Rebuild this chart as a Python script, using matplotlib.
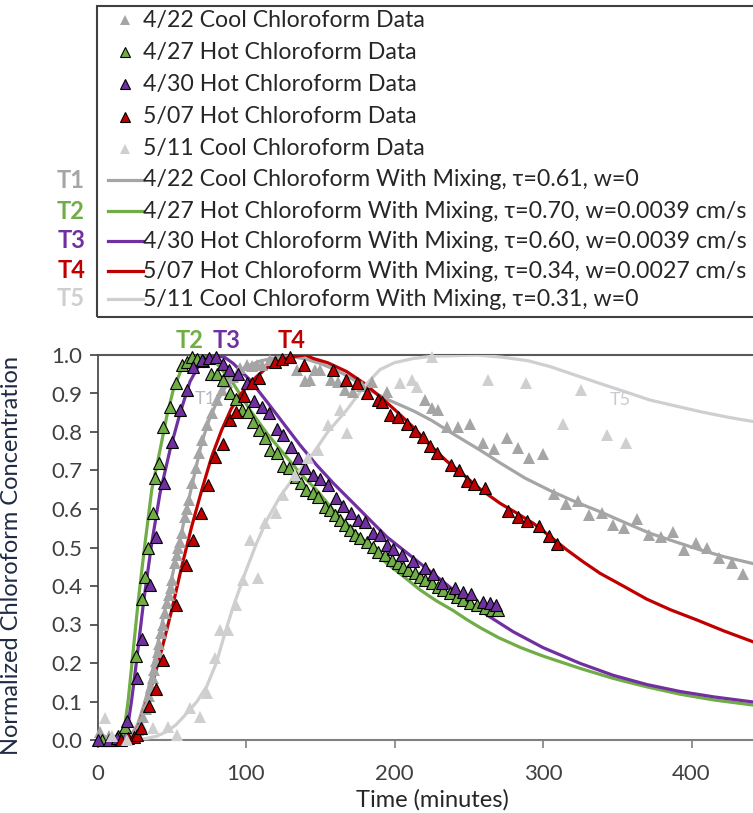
import numpy as np
import matplotlib.pyplot as plt
from matplotlib.lines import Line2D
from matplotlib.patches import Rectangle

plt.rcParams['font.family'] = ['Lato', 'DejaVu Sans']

# measured breakthrough data: (time [min], normalized chloroform concentration)
data_0422 = [(2, 0.02), (5, 0.0), (8, 0.01), (12, 0.0), (16, 0.0), (20, 0.005), (24, 0.01),
             (27.5, 0.026), (29, 0.04), (30.9, 0.061), (32.5, 0.08), (33.8, 0.095), (35, 0.115),
             (36, 0.138), (37.2, 0.16), (38.3, 0.182), (39.4, 0.205), (40.5, 0.229), (41.7, 0.25),
             (42.8, 0.277), (44.2, 0.30), (45.5, 0.329), (46.8, 0.355), (48.1, 0.377), (49.3, 0.395),
             (50.4, 0.416), (52.2, 0.459), (53.3, 0.48), (54.4, 0.498), (55.5, 0.515), (56.7, 0.537),
             (58.9, 0.58), (60.2, 0.60), (61.6, 0.623), (63.8, 0.667), (66.1, 0.706), (68.4, 0.745),
             (70.6, 0.779), (73.5, 0.818), (76.9, 0.849), (80.3, 0.883), (83.6, 0.909), (87.5, 0.93),
             (91.4, 0.944), (96, 0.965), (100.5, 0.974), (103.8, 0.971), (107.2, 0.974), (110.6, 0.974),
             (116.2, 0.987), (134.1, 0.961), (139.7, 0.933), (143.1, 0.935), (146.5, 0.961),
             (149.8, 0.961), (157, 0.935), (162, 0.93), (167, 0.91), (172.3, 0.905), (178, 0.92),
             (184.6, 0.931), (194.7, 0.905), (220.5, 0.883), (225, 0.862), (229.5, 0.857),
             (235.1, 0.814), (243, 0.814), (250.8, 0.821), (259.4, 0.772), (267, 0.755), (276, 0.784),
             (283.4, 0.758), (290.8, 0.733), (299.8, 0.742), (307.4, 0.639), (315.5, 0.613),
             (323.4, 0.622), (331.2, 0.584), (339.5, 0.589), (347.3, 0.558), (354.5, 0.55),
             (363.5, 0.573), (371.3, 0.532), (379.2, 0.528), (387.3, 0.541), (395.2, 0.494),
             (403, 0.511), (410.2, 0.498), (418.7, 0.472), (427.1, 0.459), (434.9, 0.431)]

data_0427 = [(3, 0.0), (9, 0.0), (14, 0.01), (18.5, 0.035), (25.7, 0.218), (29.8, 0.365), (32, 0.424),
             (33.8, 0.50), (37.2, 0.589), (38.7, 0.68), (41.6, 0.719), (44.3, 0.812), (48.8, 0.866),
             (52.9, 0.926), (57.1, 0.974), (60, 0.983), (63.4, 0.996), (67, 0.99), (71, 0.985),
             (76.2, 0.951), (80.7, 0.951), (84.7, 0.935), (89.2, 0.90), (93.3, 0.885), (97.1, 0.857),
             (101.6, 0.853), (104.9, 0.827), (109, 0.805), (112.8, 0.784), (116.2, 0.753),
             (121.1, 0.745), (125.1, 0.712), (129.2, 0.706), (133.5, 0.684), (137, 0.667),
             (140.4, 0.649), (144.9, 0.641), (148.7, 0.632), (153.2, 0.606), (156.6, 0.597),
             (159.9, 0.584), (163.3, 0.571), (166.7, 0.558), (170, 0.545), (173.4, 0.532),
             (176.8, 0.524), (181.3, 0.515), (185.7, 0.502), (189.1, 0.489), (193.6, 0.48),
             (198.1, 0.468), (202.6, 0.459), (205.9, 0.45), (209.3, 0.442), (213.8, 0.433),
             (217.2, 0.424), (220.5, 0.416), (225, 0.407), (229.5, 0.398), (232.9, 0.39),
             (237.4, 0.381), (241.9, 0.372), (246.3, 0.364), (250.8, 0.355), (255.3, 0.351),
             (260.9, 0.342), (265.5, 0.338), (269.9, 0.338)]

data_0430 = [(0, 0.0), (8, 0.0), (13, 0.004), (19.7, 0.05), (26.4, 0.16), (29.7, 0.263), (35.4, 0.403),
             (39.4, 0.526), (45, 0.667), (50.4, 0.775), (55.6, 0.857), (60.1, 0.909), (64.5, 0.968),
             (70.5, 0.988), (75.3, 0.991), (79.8, 0.994), (84.3, 0.977), (88.8, 0.961), (94.8, 0.951),
             (100.9, 0.928), (105.4, 0.881), (110.6, 0.866), (115.5, 0.849), (120.7, 0.807),
             (125.1, 0.792), (130.1, 0.762), (135.2, 0.732), (139.7, 0.706), (144.9, 0.688),
             (150, 0.677), (155.4, 0.662), (160.3, 0.628), (165.5, 0.609), (170.5, 0.589),
             (175.6, 0.571), (180.1, 0.567), (185.3, 0.537), (190.2, 0.532), (194.7, 0.506),
             (199.2, 0.497), (205, 0.48), (212.7, 0.466), (220.5, 0.448), (226, 0.43), (231.8, 0.407),
             (240.7, 0.396), (246, 0.385), (251.3, 0.378), (259.4, 0.359), (264, 0.355), (268.6, 0.35)]

data_0507 = [(16, 0.0), (20.8, 0.004), (24.8, 0.007), (26.4, 0.013), (29.3, 0.032), (34.5, 0.088),
             (39.3, 0.132), (44.3, 0.208), (53, 0.35), (59.6, 0.455), (64.5, 0.52), (69.7, 0.589),
             (74.6, 0.662), (79.3, 0.735), (84.3, 0.768), (89, 0.832), (93.5, 0.853), (98.7, 0.893),
             (103.8, 0.926), (109, 0.939), (119.2, 0.983), (124.3, 0.989), (129.4, 0.996), (139, 0.974),
             (158.6, 0.962), (167.2, 0.935), (174.5, 0.926), (181.7, 0.902), (189.1, 0.883),
             (191.4, 0.879), (197, 0.844), (202.6, 0.838), (208.5, 0.82), (213.8, 0.803),
             (219.4, 0.788), (224.2, 0.764), (228.6, 0.745), (238.2, 0.715), (243.5, 0.701),
             (248.6, 0.673), (253.3, 0.666), (260.9, 0.654), (276.3, 0.596), (283, 0.578),
             (289.4, 0.57), (297.5, 0.556), (304.2, 0.53), (309.6, 0.508)]

data_0511 = [(5, 0.057), (10, 0.01), (20, 0.0), (37.6, 0.03), (47.7, 0.035), (53.3, 0.013), (62.3, 0.082),
             (69, 0.06), (73.5, 0.121), (79.1, 0.212), (82.5, 0.287), (88.1, 0.287), (93.3, 0.351),
             (98.2, 0.416), (102.7, 0.519), (108.3, 0.42), (112.8, 0.563), (120.2, 0.59), (125.1, 0.636),
             (133, 0.688), (142, 0.732), (148.7, 0.753), (155.4, 0.818), (163.3, 0.857), (167.8, 0.797),
             (203.7, 0.926), (211.6, 0.935), (215, 0.918), (225, 0.996), (263.2, 0.935), (288.6, 0.928),
             (313.7, 0.821), (325.4, 0.909), (343.3, 0.792), (355.7, 0.772)]

# model curves with mixing
model_0422 = [(0, 0.0), (18, 0.0), (22, 0.01), (27, 0.04), (32, 0.1), (36, 0.16), (40, 0.24), (45, 0.33),
              (50, 0.42), (55, 0.51), (60, 0.6), (65, 0.685), (70, 0.77), (75, 0.83), (80, 0.875),
              (85, 0.91), (90, 0.935), (95, 0.955), (100, 0.97), (110, 0.985), (120, 0.993),
              (130, 0.996), (140, 0.99), (150, 0.978), (160, 0.962), (170, 0.942), (181.3, 0.913),
              (195, 0.885), (212.7, 0.855), (225, 0.83), (237.4, 0.8), (257.6, 0.753), (271, 0.72),
              (288, 0.68), (304.7, 0.648), (321, 0.62), (338.4, 0.593), (355, 0.565), (372, 0.537),
              (389, 0.515), (405.7, 0.494), (422, 0.476), (445, 0.455)]

model_0427 = [(0, 0.0), (15, 0.0), (17.4, 0.009), (20.7, 0.104), (24.1, 0.234), (27.5, 0.364), (32, 0.511),
              (36.5, 0.649), (42.1, 0.753), (46.6, 0.84), (51, 0.909), (56.7, 0.965), (63.4, 0.996),
              (68, 1.0), (74, 0.992), (80.3, 0.978), (91.4, 0.926), (102.7, 0.857), (114, 0.797),
              (125.1, 0.745), (136.4, 0.693), (147.6, 0.649), (158.8, 0.597), (170, 0.554),
              (183, 0.505), (194.7, 0.459), (206, 0.425), (217.2, 0.39), (228, 0.362), (239.6, 0.336),
              (248.6, 0.313), (257.6, 0.292), (270, 0.266), (285, 0.24), (300, 0.218), (325, 0.186),
              (347.3, 0.16), (370, 0.138), (392.3, 0.119), (415, 0.104), (445, 0.089)]

model_0430 = [(0, 0.0), (17, 0.0), (19.7, 0.017), (23, 0.104), (26.4, 0.208), (30.9, 0.355), (36.5, 0.511),
              (42.1, 0.641), (48.8, 0.753), (55.6, 0.849), (62.3, 0.931), (69, 0.978), (75, 0.996),
              (80, 1.0), (86, 0.993), (91.4, 0.978), (102.7, 0.935), (114, 0.879), (125.1, 0.823),
              (136.4, 0.766), (147.6, 0.714), (158.8, 0.667), (172.3, 0.615), (194.7, 0.528),
              (217.2, 0.459), (239.6, 0.39), (262.1, 0.325), (280, 0.281), (300, 0.24), (325, 0.199),
              (347.3, 0.168), (370, 0.144), (392.3, 0.126), (415, 0.112), (445, 0.097)]

model_0507 = [(0, 0.0), (20, 0.0), (24.1, 0.009), (27.5, 0.035), (32, 0.087), (37.6, 0.156), (43.2, 0.234),
              (50, 0.338), (56.7, 0.45), (63.4, 0.554), (70.2, 0.649), (76.9, 0.736), (83.6, 0.805),
              (90, 0.86), (96, 0.896), (101.5, 0.922), (107.2, 0.944), (112.5, 0.962), (118.4, 0.978),
              (125, 0.99), (131.9, 0.996), (140, 1.0), (145.3, 0.991), (155, 0.98), (167.8, 0.957),
              (179, 0.928), (190.2, 0.892), (201, 0.855), (212.7, 0.812), (224, 0.765), (235, 0.725),
              (246, 0.69), (257.6, 0.652), (271, 0.615), (282, 0.59), (293.4, 0.563), (305, 0.528),
              (316, 0.494), (327, 0.463), (338.4, 0.433), (354, 0.40), (369.8, 0.366), (386, 0.338),
              (403.5, 0.312), (422, 0.283), (445, 0.25)]

model_0511 = [(0, 0.0), (28, 0.0), (40, 0.01), (46.6, 0.022), (53, 0.04), (60, 0.069), (67, 0.10),
              (73.5, 0.139), (80, 0.2), (86, 0.28), (91.4, 0.346), (100, 0.44), (107, 0.51),
              (114, 0.571), (122.9, 0.632), (130, 0.67), (137, 0.705), (145.3, 0.745), (155, 0.80),
              (167.8, 0.857), (180, 0.92), (190.2, 0.962), (200, 0.98), (212.7, 0.991), (226, 0.997),
              (237.4, 0.998), (255, 1.0), (273.3, 0.994), (290, 0.985), (304.7, 0.97), (320, 0.95),
              (338.4, 0.926), (355, 0.905), (372, 0.883), (390, 0.867), (405.7, 0.853), (425, 0.838),
              (445, 0.825)]

GRAY = '#A5A5A5'
LIGHT = '#CFCFCF'
GREEN = '#70AD47'
PURPLE = '#7030A0'
RED = '#C00000'

data_series = [
    ('4/22 Cool Chloroform Data', data_0422, GRAY, 'none'),
    ('4/27 Hot Chloroform Data', data_0427, GREEN, 'black'),
    ('4/30 Hot Chloroform Data', data_0430, PURPLE, 'black'),
    ('5/07 Hot Chloroform Data', data_0507, RED, 'black'),
    ('5/11 Cool Chloroform Data', data_0511, LIGHT, 'none'),
]
model_series = [
    ('T1', '4/22 Cool Chloroform With Mixing, \u03c4=0.61, w=0', model_0422, GRAY),
    ('T2', '4/27 Hot Chloroform With Mixing, \u03c4=0.70, w=0.0039 cm/s', model_0427, GREEN),
    ('T3', '4/30 Hot Chloroform With Mixing, \u03c4=0.60, w=0.0039 cm/s', model_0430, PURPLE),
    ('T4', '5/07 Hot Chloroform With Mixing, \u03c4=0.34, w=0.0027 cm/s', model_0507, RED),
    ('T5', '5/11 Cool Chloroform With Mixing, \u03c4=0.31, w=0', model_0511, LIGHT),
]

W, H = 753, 813
fig = plt.figure(figsize=(W / 100, H / 100), dpi=100)


def fx(px):
    return px / W


def fy(py):
    return 1 - py / H


# axes: 0..500 min spans 742.5 px, the right part falls outside the canvas
ax = fig.add_axes([fx(97.5), fy(740), 742.5 / W, 385 / H])
ax.set_xlim(0, 500)
ax.set_ylim(0, 1)

for tag, label, pts, color in model_series:
    arr = np.array(pts)
    ax.plot(arr[:, 0], arr[:, 1], color=color, lw=2.3, zorder=2)

for label, pts, color, edge in data_series:
    arr = np.array(pts)
    ax.plot(arr[:, 0], arr[:, 1], ls='none', marker='^', ms=8.5, mfc=color,
            mec=edge if edge != 'none' else color, mew=0.8 if edge != 'none' else 0,
            clip_on=False, zorder=3)

ax.set_xticks([0, 100, 200, 300, 400])
ax.set_yticks(np.arange(0, 1.01, 0.1))
ax.yaxis.set_major_formatter(plt.FormatStrFormatter('%.1f'))
ax.tick_params(axis='x', direction='out', length=6, width=1.2, color='#808080',
               labelsize=16, labelcolor='#404040', pad=11)
ax.tick_params(axis='y', direction='out', length=6, width=1.2, color='#404040',
               labelsize=16, labelcolor='#404040', pad=5)
ax.spines['left'].set_color('#404040')
ax.spines['left'].set_linewidth(1.2)
ax.spines['bottom'].set_color('#808080')
ax.spines['bottom'].set_linewidth(1.5)
ax.spines['top'].set_color('#595959')
ax.spines['top'].set_linewidth(1.5)
ax.spines['right'].set_visible(False)
for sp in ax.spines.values():
    sp.set_zorder(1)

ax.set_xlabel('Time (minutes)', fontsize=17, color='#262626', va='center')
ax.xaxis.set_label_coords(0.4505, -0.156)
ax.set_ylabel('Normalized Chloroform Concentration', fontsize=17, color='#1F2A44')
ax.yaxis.set_label_coords(-0.102, 0.48)

# curve tags in the plot
ax.text(72.4, 0.886, 'T1', fontsize=13, color='#B4B8C0', ha='center', va='center', zorder=5)
ax.text(352, 0.883, 'T5', fontsize=13, color='#C8CCD2', ha='center', va='center', zorder=5)
for tag, xpos, color in [('T2', 62.3, GREEN), ('T3', 86.6, PURPLE), ('T4', 131, RED)]:
    ax.text(xpos, 1.008, tag, fontsize=17, fontweight='bold', color=color,
            ha='center', va='bottom', clip_on=False)

# legend box
rows = [20, 52, 84, 117, 149, 180, 211, 241, 271, 299]
fig.add_artist(Rectangle((fx(97), fy(317)), fx(1000), 311 / H, transform=fig.transFigure,
                         fill=False, edgecolor='#404040', lw=1.5))
for (label, pts, color, edge), py in zip(data_series, rows[:5]):
    fig.add_artist(Line2D([fx(125)], [fy(py)], transform=fig.transFigure, ls='none',
                          marker='^', ms=7, mfc=color,
                          mec=edge if edge != 'none' else color,
                          mew=0.8 if edge != 'none' else 0))
    fig.text(fx(143), fy(py), label, fontsize=16.7, color='#262626', va='center', ha='left')
for (tag, label, pts, color), py in zip(model_series, rows[5:]):
    fig.add_artist(Line2D([fx(108), fx(143)], [fy(py), fy(py)], transform=fig.transFigure,
                          color=color, lw=2.3))
    fig.text(fx(143), fy(py), label, fontsize=16.7, color='#262626', va='center', ha='left')
    fig.text(fx(85), fy(py), tag, fontsize=17, fontweight='bold', color=color,
             va='center', ha='right')

fig.savefig('out.png', dpi=100)
